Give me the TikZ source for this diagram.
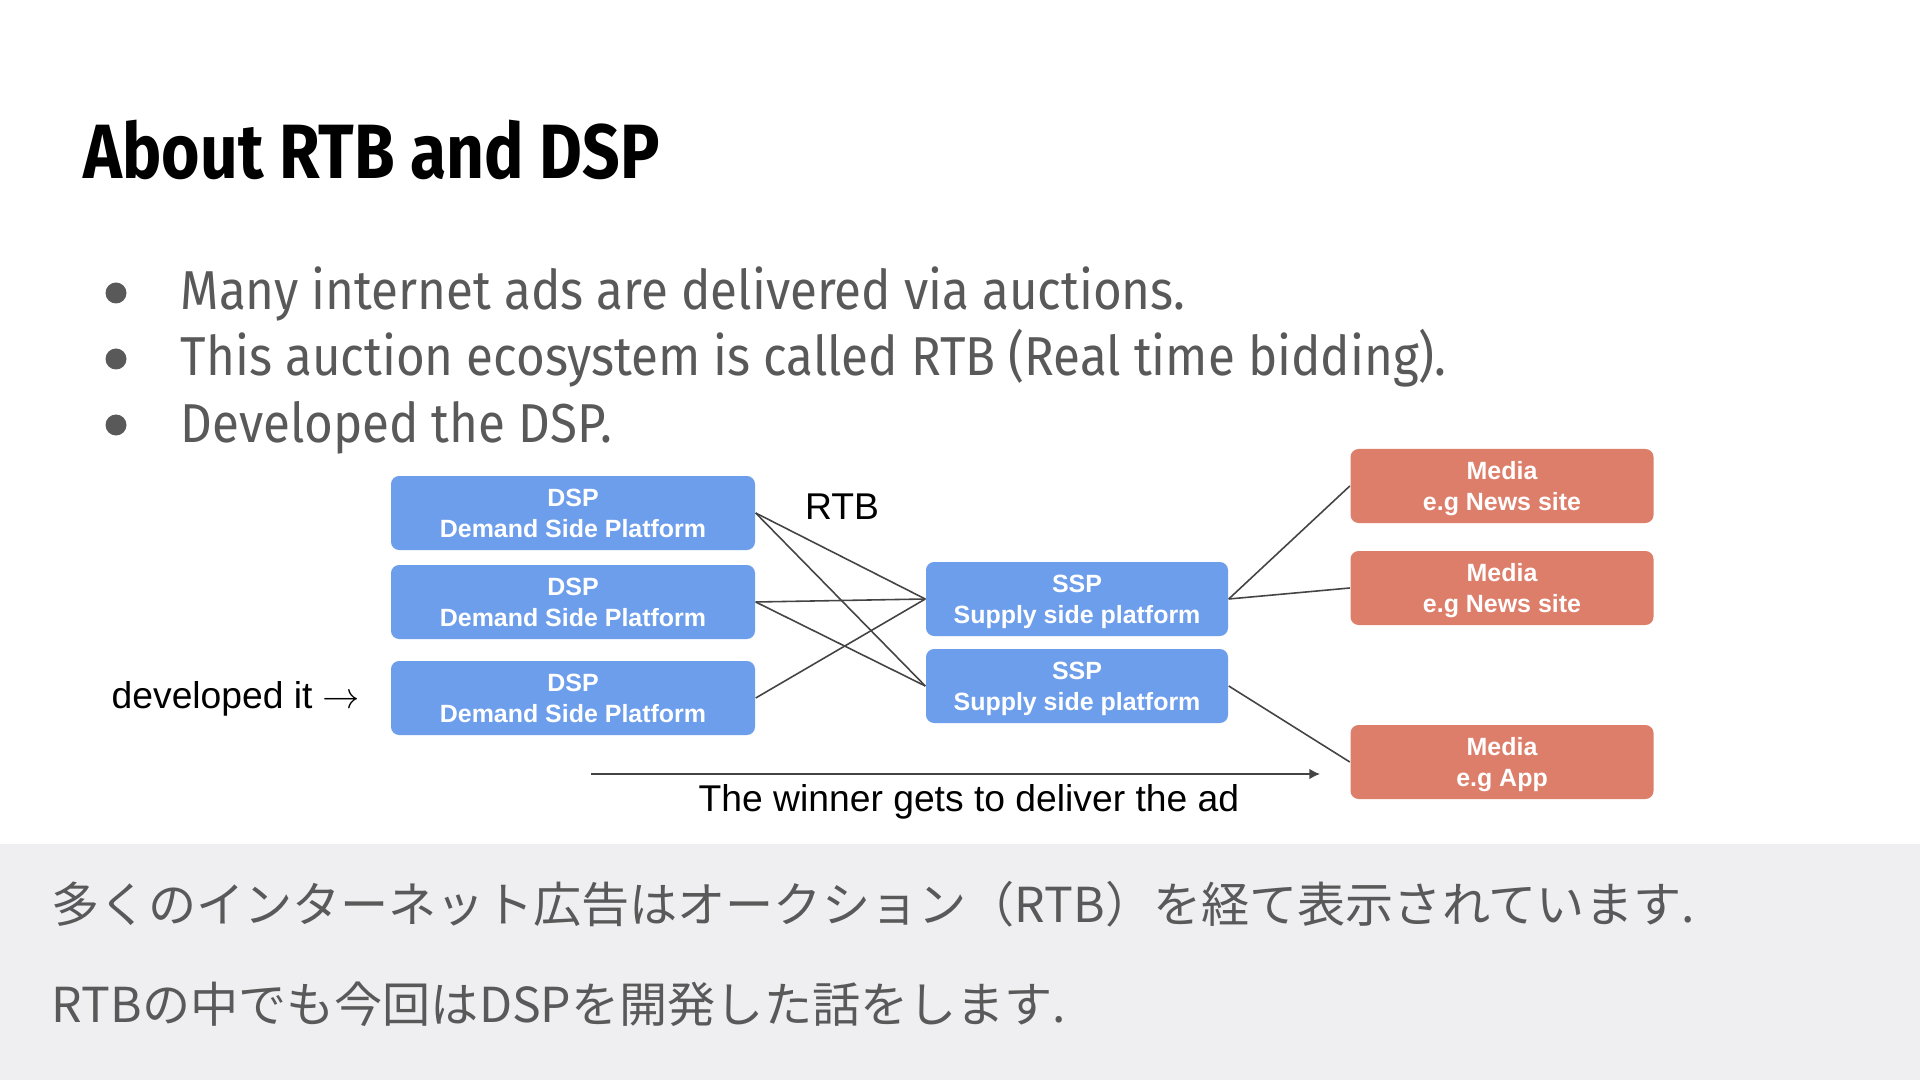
\documentclass[tikz,border=0pt]{standalone}
\usepackage{fontspec}
\setmainfont{Liberation Sans}
\newfontfamily\headfont[FakeStretch=0.856]{Fira Sans}
\newfontfamily\itemfont[FakeStretch=0.90]{Fira Sans}
\newfontfamily\arrowfont{latinmodern-math.otf}
\newfontfamily\jpfont{Noto Sans CJK JP}
\usepackage{xcolor}
\usepackage{tikz}
\usetikzlibrary{arrows.meta}

\definecolor{dspblue}{HTML}{6D9EEB}
\definecolor{mediared}{HTML}{DD7E6B}
\definecolor{bandgray}{HTML}{EFEEF0}
\definecolor{bodygray}{HTML}{595959}
\definecolor{linegray}{HTML}{444444}

\begin{document}
\begin{tikzpicture}[
    box/.style={rounded corners=2.3pt, minimum height=.74cm, inner sep=0pt, text depth=0pt, align=center, text=white, font=\fontsize{7.1}{8.8}\selectfont\bfseries},
    dspbox/.style={box, fill=dspblue, minimum width=3.64cm},
    sspbox/.style={box, fill=dspblue, minimum width=3.02cm},
    mediabox/.style={box, fill=mediared, minimum width=3.03cm},
    link/.style={draw=linegray, line width=.45pt},
    dot/.style={circle, fill=bodygray, inner sep=0pt, minimum size=.21cm},
    itemtext/.style={anchor=base west, inner sep=0pt, text=bodygray, font=\itemfont\fontsize{15.6}{18}\selectfont},
    note/.style={anchor=base west, inner sep=0pt, font=\fontsize{10.6}{12}\selectfont},
    jptext/.style={anchor=base west, inner sep=0pt, text=bodygray, font=\jpfont\fontsize{13.7}{16}\selectfont}
]
\useasboundingbox (0,0) rectangle (19.2,-10.8);
\fill[white] (0,0) rectangle (19.2,-8.44);
\fill[bandgray] (0,-8.44) rectangle (19.2,-10.8);

\node[anchor=base west, inner sep=0pt, font=\headfont\bfseries\fontsize{21.9}{26}\selectfont] (title) at (.83,-1.79) {About RTB and DSP};

% bullets
\node[dot] (dot1) at (1.16,-2.93) {};
\node[itemtext] (item1) at (1.80,-3.10) {Many internet ads are delivered via auctions.};
\node[dot] (dot2) at (1.16,-3.59) {};
\node[itemtext] (item2) at (1.80,-3.76) {This auction ecosystem is called RTB (Real time bidding).};
\node[dot] (dot3) at (1.16,-4.25) {};
\node[itemtext] (item3) at (1.80,-4.42) {Developed the DSP.};

% platforms
\node[dspbox] (dsp1) at (5.73,-5.13) {DSP\\Demand Side Platform};
\node[dspbox] (dsp2) at (5.73,-6.02) {DSP\\Demand Side Platform};
\node[dspbox] (dsp3) at (5.73,-6.98) {DSP\\Demand Side Platform};
\node[sspbox] (ssp1) at (10.77,-5.99) {SSP\\Supply side platform};
\node[sspbox] (ssp2) at (10.77,-6.86) {SSP\\Supply side platform};
\node[mediabox] (media1) at (15.02,-4.86) {Media\\e.g News site};
\node[mediabox] (media2) at (15.02,-5.88) {Media\\e.g News site};
\node[mediabox] (media3) at (15.02,-7.62) {Media\\e.g App};

\draw[link] (dsp1.east) -- (ssp1.west);
\draw[link] (dsp1.east) -- (ssp2.west);
\draw[link] (dsp2.east) -- (ssp1.west);
\draw[link] (dsp2.east) -- (ssp2.west);
\draw[link] (dsp3.east) -- (ssp1.west);
\draw[link] (ssp1.east) -- (media1.west);
\draw[link] (ssp1.east) -- (media2.west);
\draw[link] (ssp2.east) -- (media3.west);

\node[note, anchor=base] (rtb) at (8.42,-5.19) {RTB};
\node[note] (dev) at (1.11,-7.08) {developed it {\arrowfont →}};

\coordinate (winstart) at (5.91,-7.74);
\coordinate (winend) at (13.20,-7.74);
\draw[link, -{Latex[length=3pt,width=3pt]}] (winstart) -- (winend);
\node[note] (winner) at (6.98,-8.11) {The winner gets to deliver the ad};

% notes
\node[jptext] (jp1) at (.51,-9.22) {多くのインターネット広告はオークション（RTB）を経て表示されています.};
\node[jptext] (jp2) at (.51,-10.22) {RTBの中でも今回はDSPを開発した話をします.};
\end{tikzpicture}
\end{document}
